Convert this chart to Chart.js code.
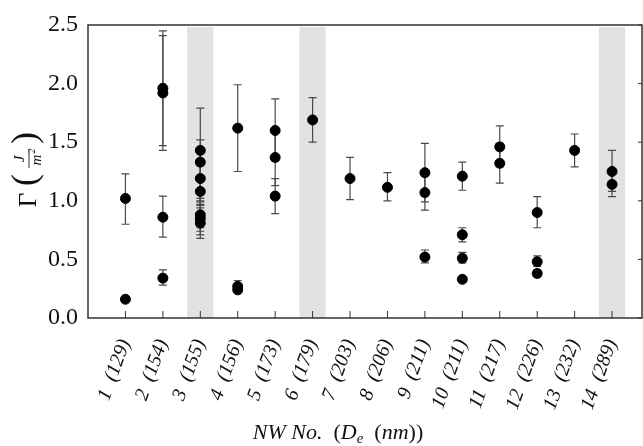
<!DOCTYPE html>
<html>
<head>
<meta charset="utf-8">
<script src="https://cdn.jsdelivr.net/npm/chart.js@4/dist/chart.umd.min.js"></script>
<style>
  body { margin: 0; background: #fff; }
  #wrap { width: 643px; height: 446px; position: relative; }
</style>
</head>
<body>
<div id="wrap"><canvas id="chart"></canvas></div>
<script>
// nanowire number and its diameter in nm
const wireNumbers = [1, 2, 3, 4, 5, 6, 7, 8, 9, 10, 11, 12, 13, 14];
const wireDiameters = ['129', '154', '155', '156', '173', '179', '203', '206', '211', '211', '217', '226', '232', '289'];
const shadedWires = [3, 6, 14];
const yTicks = [0, 0.5, 1.0, 1.5, 2.0, 2.5];

// one entry per measurement
const pointWire  = [1, 1, 2, 2, 2, 2, 3, 3, 3, 3, 3, 3, 3, 4, 4, 4, 5, 5, 5, 6, 7, 8, 9, 9, 9, 10, 10, 10, 10, 11, 11, 12, 12, 12, 13, 14, 14];
const pointGamma = [1.02, 0.16, 1.96, 1.92, 0.86, 0.34, 1.43, 1.33, 1.19, 1.08, 0.88, 0.85, 0.81, 1.62, 0.27, 0.24, 1.60, 1.37, 1.04, 1.69, 1.19, 1.115, 1.24, 1.07, 0.52, 1.21, 0.71, 0.51, 0.33, 1.46, 1.32, 0.90, 0.48, 0.38, 1.43, 1.25, 1.14];
const errLow     = [0.80, 0.15, 1.47, 1.43, 0.69, 0.28, 1.00, 0.97, 0.96, 0.77, 0.74, 0.71, 0.68, 1.25, 0.24, 0.22, 1.34, 1.13, 0.89, 1.50, 1.01, 1.00, 0.99, 0.92, 0.47, 1.09, 0.65, 0.47, 0.31, 1.29, 1.15, 0.77, 0.44, 0.35, 1.29, 1.08, 1.035];
const errHigh    = [1.23, 0.17, 2.45, 2.41, 1.04, 0.41, 1.79, 1.52, 1.42, 1.30, 1.02, 0.99, 0.94, 1.99, 0.32, 0.27, 1.87, 1.60, 1.19, 1.88, 1.37, 1.24, 1.49, 1.22, 0.58, 1.33, 0.77, 0.56, 0.35, 1.64, 1.49, 1.035, 0.53, 0.41, 1.57, 1.43, 1.25];

const serif = '"Liberation Serif", "Times New Roman", serif';

const figurePlugin = {
    id: 'figure',
    afterLayout(chart) {
        // the rotated last label reserves room on the right; the original frame runs to the edge
        const area = chart.chartArea;
        const x = chart.scales.x;
        area.right = chart.width - 1;
        area.width = area.right - area.left;
        x.right = area.right;
        x.width = area.width;
        x.configure();
    },
    beforeDatasetsDraw(chart) {
        const ctx = chart.ctx;
        const area = chart.chartArea;
        const x = chart.scales.x;
        const y = chart.scales.y;
        ctx.save();

        // shaded wires
        ctx.fillStyle = '#e2e2e2';
        shadedWires.forEach(w => {
            const l = x.getPixelForValue(w - 0.35);
            const r = x.getPixelForValue(w + 0.35);
            ctx.fillRect(l, area.top + 2, r - l, area.bottom - area.top - 2);
        });

        // error bars
        ctx.strokeStyle = '#4a4a4a';
        ctx.lineWidth = 1.2;
        pointWire.forEach((w, i) => {
            const px = x.getPixelForValue(w);
            const lo = y.getPixelForValue(errLow[i]);
            const hi = y.getPixelForValue(errHigh[i]);
            ctx.beginPath();
            ctx.moveTo(px, lo); ctx.lineTo(px, hi);
            ctx.moveTo(px - 4, lo); ctx.lineTo(px + 4, lo);
            ctx.moveTo(px - 4, hi); ctx.lineTo(px + 4, hi);
            ctx.stroke();
        });
        ctx.restore();
    },
    afterDraw(chart) {
        const ctx = chart.ctx;
        const area = chart.chartArea;
        const x = chart.scales.x;
        const y = chart.scales.y;
        ctx.save();

        // frame
        ctx.strokeStyle = '#333';
        ctx.lineWidth = 1.5;
        ctx.strokeRect(area.left, area.top, area.right - area.left, area.bottom - area.top);

        // inward ticks
        ctx.lineWidth = 1;
        ctx.beginPath();
        wireNumbers.forEach(w => {
            const px = x.getPixelForValue(w);
            ctx.moveTo(px, area.bottom);
            ctx.lineTo(px, area.bottom - 7);
        });
        yTicks.forEach(v => {
            const py = y.getPixelForValue(v);
            ctx.moveTo(area.right, py);
            ctx.lineTo(area.right - 4, py);
        });
        ctx.stroke();

        // y title: Gamma (J / m^2)
        ctx.fillStyle = '#111';
        ctx.translate(28, 172);
        ctx.rotate(-Math.PI / 2);
        ctx.textAlign = 'center';
        ctx.textBaseline = 'middle';
        ctx.font = '25px ' + serif;
        ctx.fillText('Γ', -28, 1);
        ctx.font = '36px ' + serif;
        ctx.fillText('(', -8, -1);
        ctx.fillText(')', 34, -1);
        ctx.font = 'italic 15px ' + serif;
        ctx.fillText('J', 13, -8);
        ctx.fillText('m', 12, 9);
        ctx.font = 'italic 10px ' + serif;
        ctx.fillText('2', 21, 4);
        ctx.beginPath();
        ctx.lineWidth = 1;
        ctx.moveTo(4, 1);
        ctx.lineTo(23, 1);
        ctx.stroke();
        ctx.restore();

        // x title: NW No. (D_e (nm))
        ctx.save();
        ctx.fillStyle = '#111';
        ctx.textBaseline = 'alphabetic';
        const parts = [
            ['italic 22px ' + serif, 'NW No.', 0],
            ['22px ' + serif, '  (', 0],
            ['italic 22px ' + serif, 'D', 0],
            ['italic 15px ' + serif, 'e', 4],
            ['22px ' + serif, '  (', 0],
            ['italic 22px ' + serif, 'nm', 0],
            ['22px ' + serif, '))', 0]
        ];
        let total = 0;
        parts.forEach(p => { ctx.font = p[0]; total += ctx.measureText(p[1]).width; });
        let cx = 338 - total / 2;
        parts.forEach(p => {
            ctx.font = p[0];
            ctx.fillText(p[1], cx, 439 + p[2]);
            cx += ctx.measureText(p[1]).width;
        });
        ctx.restore();
    }
};

new Chart(document.getElementById('chart'), {
    type: 'scatter',
    data: {
        datasets: [{
            data: pointWire.map((w, i) => ({ x: w, y: pointGamma[i] })),
            backgroundColor: '#000',
            borderColor: '#000',
            pointRadius: 5,
            pointHoverRadius: 5
        }]
    },
    options: {
        responsive: true,
        maintainAspectRatio: false,
        animation: false,
        layout: { padding: { top: 25, right: 1, left: 0, bottom: 0 } },
        plugins: {
            legend: { display: false },
            tooltip: { enabled: false }
        },
        scales: {
            x: {
                type: 'linear',
                min: 0,
                max: 14.8,
                grid: { display: false, drawTicks: false, tickLength: 0 },
                border: { display: false },
                afterBuildTicks: scale => {
                    scale.ticks = wireNumbers.map(v => ({ value: v }));
                },
                afterFit: scale => { scale.height = 128; },
                ticks: {
                    autoSkip: false,
                    minRotation: 70,
                    maxRotation: 70,
                    padding: 18,
                    color: '#111',
                    font: { family: serif, size: 20, style: 'italic' },
                    callback: v => v + '  (' + wireDiameters[v - 1] + ')'
                }
            },
            y: {
                min: 0,
                max: 2.5,
                grid: { display: false, drawTicks: false, tickLength: 0 },
                border: { display: false },
                afterBuildTicks: scale => {
                    scale.ticks = yTicks.map(v => ({ value: v }));
                },
                afterFit: scale => { scale.width = 88; },
                ticks: {
                    padding: 10,
                    color: '#111',
                    font: { family: serif, size: 24 },
                    callback: v => v.toFixed(1)
                }
            }
        }
    },
    plugins: [figurePlugin]
});
</script>
</body>
</html>
